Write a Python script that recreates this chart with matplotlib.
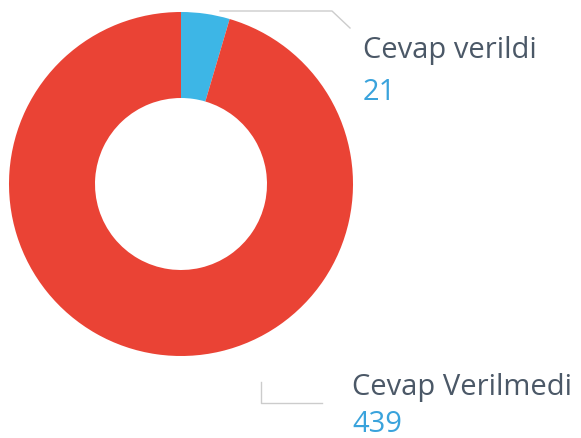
import matplotlib
matplotlib.use('Agg')
import matplotlib.pyplot as plt

labels = ['Cevap verildi', 'Cevap Verilmedi']
values = [21, 439]
colors = ['#3db6e6', '#ea4335']

fig = plt.figure(figsize=(5.81, 4.38), dpi=100)
ax = fig.add_axes([0, 0, 1, 1])

# y axis is flipped, so counterclock=True draws clockwise on screen
ax.pie(values, colors=colors, center=(181, 184), radius=172, startangle=-90,
       counterclock=True, wedgeprops=dict(width=86, linewidth=0), frame=True)
ax.set_xlim(0, 581)
ax.set_ylim(438, 0)
ax.set_aspect('equal')
ax.axis('off')

# leader lines
ax.plot([220, 332, 350], [11, 11, 28], color='#cccccc', lw=1)
ax.plot([261, 261, 322], [382, 403, 403], color='#cccccc', lw=1)

font = 'Open Sans'
fs = 21
ax.text(363, 58, labels[0], fontsize=fs, color='#4b5867', family=font, va='baseline')
ax.text(363, 100, str(values[0]), fontsize=fs, color='#3aa3dc', family=font, va='baseline')
ax.text(352, 395, labels[1], fontsize=fs, color='#4b5867', family=font, va='baseline')
ax.text(352, 432, str(values[1]), fontsize=fs, color='#3aa3dc', family=font, va='baseline')

fig.savefig('out.png', dpi=100)
